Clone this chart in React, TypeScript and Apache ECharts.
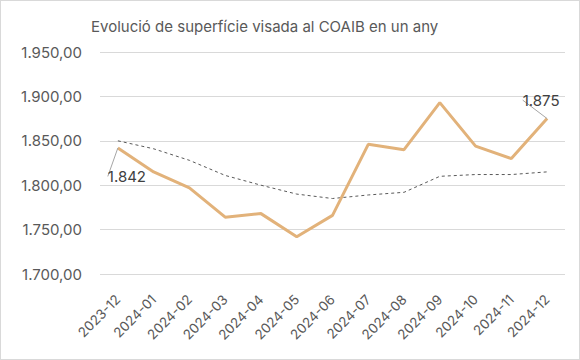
import React, { useEffect, useRef } from "react";
import * as echarts from "echarts";

const categories = ["2023-12", "2024-01", "2024-02", "2024-03", "2024-04", "2024-05", "2024-06", "2024-07", "2024-08", "2024-09", "2024-10", "2024-11", "2024-12"];
const surface = [1842, 1815, 1797, 1764, 1768, 1742, 1766, 1846, 1840, 1893, 1844, 1830, 1875];
const trend = [1850, 1841, 1828, 1811, 1800, 1790, 1785, 1789, 1792, 1810, 1812, 1812, 1815];
const titleText = "Evolució de superfície visada al COAIB en un any";

const FONT = "Inter, 'Open Sans', sans-serif";
const fmtInt = (v: number) => String(Math.round(v)).replace(/\B(?=(\d{3})+(?!\d))/g, ".");
const fmtY = (v: number) => fmtInt(v) + ",00";

export default function App() {
  const ref = useRef<HTMLDivElement>(null);
  useEffect(() => {
    document.body.style.margin = "0";
    const chart = echarts.init(ref.current!, undefined, { renderer: "svg" });
    const last = surface.length - 1;
    chart.setOption({
      animation: false,
      textStyle: { fontFamily: FONT },
      title: {
        text: titleText,
        left: 85,
        top: 13,
        textStyle: { fontFamily: FONT, fontSize: 15, fontWeight: "normal", color: "#595959" },
      },
      grid: { left: 99, right: 14, top: 51, bottom: 85, containLabel: false },
      xAxis: {
        type: "category",
        data: categories,
        boundaryGap: true,
        axisLine: { show: false },
        axisTick: { show: false },
        axisLabel: { rotate: 45, fontSize: 13.5, color: "#595959", margin: 23, fontFamily: FONT, interval: 0 },
      },
      yAxis: {
        type: "value",
        min: 1700,
        max: 1950,
        interval: 50,
        axisLine: { show: false },
        axisTick: { show: false },
        splitLine: { lineStyle: { color: "#d9d9d9", width: 1 } },
        axisLabel: { fontSize: 15, color: "#595959", margin: 18, fontFamily: FONT, formatter: fmtY },
      },
      series: [
        {
          type: "line",
          data: trend,
          symbol: "none",
          lineStyle: { color: "#595959", width: 1, type: [3, 3] },
          z: 1,
        },
        {
          type: "line",
          data: surface.map((v, i) => {
            if (i === 0) return { value: v, label: { show: true, position: "bottom" } };
            if (i === last) return { value: v, label: { show: true, position: "top" } };
            return v;
          }),
          symbol: "circle",
          symbolSize: 0,
          showSymbol: true,
          itemStyle: { color: "#E2B27A" },
          lineStyle: { color: "#E2B27A", width: 3 },
          label: {
            show: false,
            fontSize: 15,
            color: "#404040",
            fontFamily: FONT,
            formatter: (p: any) => fmtInt(p.value),
          },
          labelLine: { show: true, lineStyle: { color: "#a6a6a6", width: 1 } },
          labelLayout: (p: any) => {
            if (p.dataIndex === 0) return { dx: 9, dy: 16 };
            if (p.dataIndex === last) return { dx: -6, dy: -6 };
            return {};
          },
          z: 2,
        },
      ],
    });
    return () => chart.dispose();
  }, []);
  return (
    <div
      ref={ref}
      style={{
        position: "absolute",
        left: 0,
        top: 0,
        width: 580,
        height: 360,
        border: "1px solid #d9d9d9",
        boxSizing: "border-box",
        background: "#fff",
      }}
    />
  );
}
